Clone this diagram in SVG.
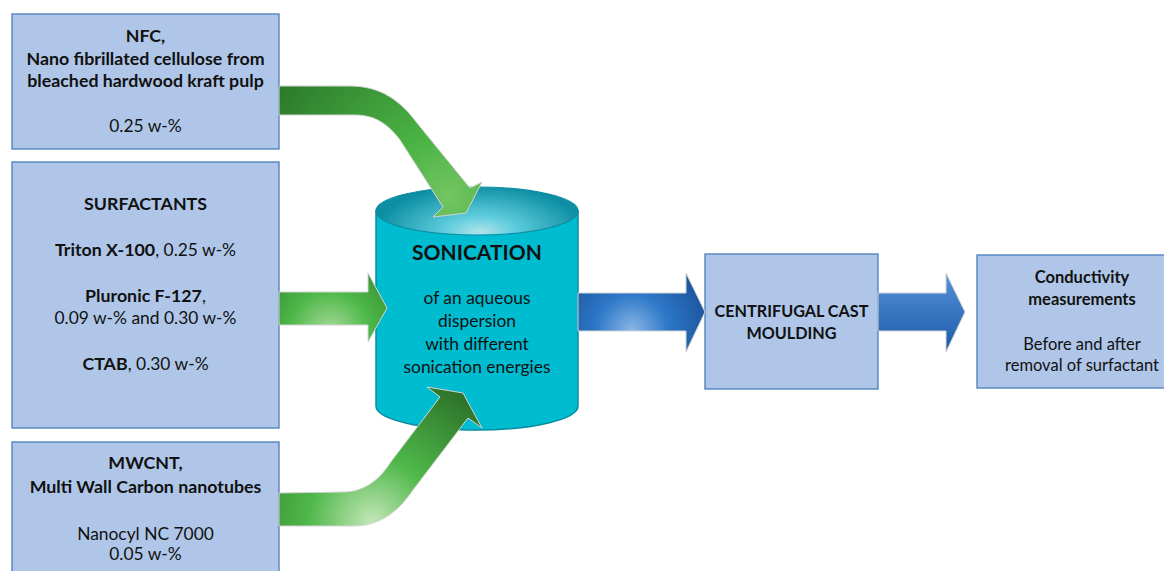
<svg xmlns="http://www.w3.org/2000/svg" width="1164" height="571" viewBox="0 0 1164 571">
  <style>
    .box { fill: #afc6e8; stroke: #4a7ebb; stroke-width: 1.3; }
    .t { font-family: Lato, "Open Sans", "Liberation Sans", sans-serif; font-size: 17.4px; fill: #111; text-anchor: middle; }
    .b { font-weight: bold; font-size: 17.8px; }
    .s { font-size: 16.5px; }
    .arrow { stroke: #d4d4d4; stroke-width: 1; stroke-linejoin: miter; }
  </style>
  <defs>
    <radialGradient id="gTop" gradientUnits="userSpaceOnUse" cx="448" cy="196" r="200">
      <stop offset="0" stop-color="#74c563"/>
      <stop offset="0.3" stop-color="#4bb445"/>
      <stop offset="1" stop-color="#2c7a2b"/>
    </radialGradient>
    <radialGradient id="gMid" gradientUnits="userSpaceOnUse" cx="330" cy="332" r="90">
      <stop offset="0" stop-color="#a9da9c"/>
      <stop offset="0.45" stop-color="#4db848"/>
      <stop offset="1" stop-color="#2f7f2f"/>
    </radialGradient>
    <radialGradient id="gBot" gradientUnits="userSpaceOnUse" cx="372" cy="522" r="160">
      <stop offset="0" stop-color="#c3e6b7"/>
      <stop offset="0.4" stop-color="#4fb84a"/>
      <stop offset="1" stop-color="#2b6f28"/>
    </radialGradient>
    <radialGradient id="bl1" gradientUnits="userSpaceOnUse" cx="632" cy="330" r="80">
      <stop offset="0" stop-color="#8ab6e6"/>
      <stop offset="0.45" stop-color="#2d78c8"/>
      <stop offset="1" stop-color="#1c529a"/>
    </radialGradient>
    <linearGradient id="bl2" x1="0" y1="0" x2="0" y2="1">
      <stop offset="0" stop-color="#5592d8"/>
      <stop offset="1" stop-color="#1c5aa8"/>
    </linearGradient>
    <radialGradient id="rim" gradientUnits="userSpaceOnUse" cx="480" cy="232" r="105" gradientTransform="translate(480 232) scale(1 0.45) translate(-480 -232)">
      <stop offset="0" stop-color="#b2e4ec"/>
      <stop offset="0.35" stop-color="#5ccbdc"/>
      <stop offset="1" stop-color="#0d8ea2"/>
    </radialGradient>
  </defs>

  <!-- input boxes -->
  <g id="nfc">
    <rect class="box" x="12" y="14" width="267" height="135"/>
    <text class="t b" x="145.5" y="42">NFC,</text>
    <text class="t b" x="145.5" y="65">Nano fibrillated cellulose from</text>
    <text class="t b" x="145.5" y="87">bleached hardwood kraft pulp</text>
    <text class="t" x="145.5" y="132">0.25 w-%</text>
  </g>

  <g id="surfactants">
    <rect class="box" x="12" y="162" width="267" height="266"/>
    <text class="t b" x="145.5" y="210">SURFACTANTS</text>
    <text class="t" x="145.5" y="256"><tspan class="b">Triton X-100</tspan>, 0.25 w-%</text>
    <text class="t" x="145.5" y="302"><tspan class="b">Pluronic F-127</tspan>,</text>
    <text class="t" x="145.5" y="324">0.09 w-% and 0.30 w-%</text>
    <text class="t" x="145.5" y="370"><tspan class="b">CTAB</tspan>, 0.30 w-%</text>
  </g>

  <g id="mwcnt">
    <rect class="box" x="12" y="442" width="267" height="140"/>
    <text class="t b" x="145.5" y="469">MWCNT,</text>
    <text class="t b" x="145.5" y="493">Multi Wall Carbon nanotubes</text>
    <text class="t" x="145.5" y="540">Nanocyl NC 7000</text>
    <text class="t" x="145.5" y="560">0.05 w-%</text>
  </g>

  <!-- sonication vessel -->
  <g id="sonication">
    <path d="M376,211 L376,406 A101,24 0 0 0 578,406 L578,211 Z" fill="#00bcd0" stroke="#0b8ca0" stroke-width="1.5"/>
    <ellipse cx="477" cy="211" rx="101" ry="24" fill="url(#rim)" stroke="#0b8ca0" stroke-width="1.2"/>
    <text class="t b" x="477" y="260" style="font-size:21px">SONICATION</text>
    <text class="t" x="477" y="304">of an aqueous</text>
    <text class="t" x="477" y="327">dispersion</text>
    <text class="t" x="477" y="350">with different</text>
    <text class="t" x="477" y="373">sonication energies</text>
  </g>

  <g id="centrifugal">
    <rect class="box" x="705" y="254" width="173" height="135"/>
    <text class="t b" x="791.5" y="317" style="font-size:16.2px">CENTRIFUGAL CAST</text>
    <text class="t b" x="791.5" y="339" style="font-size:16.2px">MOULDING</text>
  </g>

  <g id="conductivity">
    <rect class="box" x="977" y="255" width="220" height="133"/>
    <text class="t b s" x="1082" y="283">Conductivity</text>
    <text class="t b s" x="1082" y="305">measurements</text>
    <text class="t s" x="1082" y="350">Before and after</text>
    <text class="t s" x="1082" y="371">removal of surfactant</text>
  </g>

  <!-- flow arrows -->
  <g id="connectors">
    <path class="arrow" fill="url(#gTop)" d="M279,86 L350,86 C380,86 400,100 417,123 L470,188 L482,182 L466,213 L433,217 L443,207 L400,140 C388,124 375,115 355,115 L279,115 Z"/>
    <path class="arrow" fill="url(#gMid)" d="M279,292 L368,292 L368,273 L387,308 L368,342 L368,325 L279,325 Z"/>
    <path class="arrow" fill="url(#gBot)" d="M279,493 L343,492 C362,492 378,482 390,463 L440,397 L427,387 L463,393 L482,428 L468,418 L413,490 C398,512 380,526 353,526 L279,526 Z"/>
    <path class="arrow" fill="url(#bl1)" d="M578,293 L686,293 L686,273 L705,312 L686,352 L686,331 L578,331 Z"/>
    <path class="arrow" fill="url(#bl2)" d="M878,293 L946,293 L946,273 L965,312 L946,352 L946,331 L878,331 Z"/>
  </g>
</svg>
